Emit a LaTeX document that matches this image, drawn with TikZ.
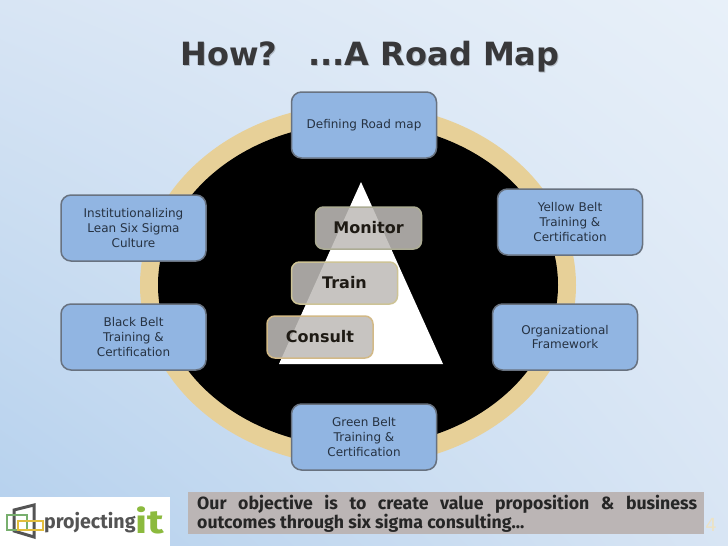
\documentclass[tikz,border=0pt]{standalone}
\usepackage{fontspec}
\setmainfont{DejaVu Sans}
\newfontfamily\firafont{Fira Sans}
\usetikzlibrary{shadings,shapes.geometric}
\definecolor{ringtan}{RGB}{231,208,152}
\definecolor{boxblue}{RGB}{145,181,226}
\definecolor{boxedge}{RGB}{104,114,128}
\definecolor{boxtext}{RGB}{38,50,66}
\definecolor{stepfill}{RGB}{191,188,184}
\definecolor{steptext}{RGB}{30,26,20}
\definecolor{titlegrey}{RGB}{56,56,58}
\definecolor{bannergrey}{RGB}{187,181,181}
\definecolor{itgreen}{RGB}{140,186,62}
\definecolor{logogrey}{RGB}{84,84,84}
\definecolor{logogreen}{RGB}{120,175,110}
\definecolor{logoyellow}{RGB}{226,190,60}
\definecolor{bgll}{RGB}{180,208,237}
\definecolor{bgul}{RGB}{216,229,244}
\definecolor{bgur}{RGB}{232,240,249}
\definecolor{bglr}{RGB}{216,229,244}
\definecolor{edgemon}{RGB}{172,172,148}
\definecolor{edgetrain}{RGB}{205,195,150}
\definecolor{edgecons}{RGB}{210,185,135}
\definecolor{pagetan}{RGB}{236,226,196}
\tikzset{
  x=1pt,y=-1pt,
  bluebox/.style={draw=boxedge,line width=1.5pt,fill=boxblue,rounded corners=10pt,
    minimum width=145pt,minimum height=66pt,inner sep=0pt,outer sep=0pt,align=center,
    text=boxtext,font=\fontsize{12}{14.6}\selectfont},
  stepbox/.style={line width=1.5pt,fill=stepfill,fill opacity=.87,text opacity=1,rounded corners=8pt,
    minimum width=106pt,minimum height=42pt,inner sep=0pt,outer sep=0pt,
    text=steptext,font=\fontsize{16}{18}\selectfont\bfseries},
}
\begin{document}
\begin{tikzpicture}
\useasboundingbox (0,0) rectangle (728,546);
% background
\shade[shading=bilinear interpolation,lower left=bgll,upper left=bgul,upper right=bgur,lower right=bglr] (0,0) rectangle (728,546);
% title
\node[text=titlegrey,opacity=.25,font=\fontsize{32}{36}\selectfont\bfseries,inner sep=0pt] (titleshadow) at (370.6,57.2) {How?\hspace{31pt}...A Road Map};
\node[text=titlegrey,font=\fontsize{32}{36}\selectfont\bfseries,inner sep=0pt] (title) at (370,56.5) {How?\hspace{31pt}...A Road Map};
% ring and disc
\fill[ringtan] (358,285) ellipse [x radius=218,y radius=181];
\fill[black] (358,285) ellipse [x radius=200,y radius=162];
% pyramid
\fill[white] (361,182) -- (443,364) -- (279,364) -- cycle;
\node[stepbox,draw=edgemon] (monitor) at (368.5,228) {Monitor};
\node[stepbox,draw=edgetrain] (train) at (344.5,283) {Train};
\node[stepbox,draw=edgecons] (consult) at (320,337) {Consult};
% outer boxes
\node[bluebox] (roadmap) at (364,125) {Defining Road map};
\node[bluebox] (culture) at (133.5,228) {Institutionalizing\\Lean Six Sigma\\Culture};
\node[bluebox] (black) at (133.5,337) {Black Belt\\Training \&\\Certification};
\node[bluebox] (yellow) at (570,222) {Yellow Belt\\Training \&\\Certification};
\node[bluebox] (org) at (565,337) {Organizational\\Framework};
\node[bluebox] (green) at (364,437) {Green Belt\\Training \&\\Certification};
% banner
\node[fill=bannergrey,minimum width=516pt,minimum height=42pt,inner sep=0pt,outer sep=0pt,anchor=north west] (banner) at (188,492) {};
\node[anchor=west,inner sep=0pt,align=left,text=black!85,font=\firafont\bfseries\fontsize{17.7}{18.5}\selectfont] (bannertext) at (197,514)
  {\hbox to 500pt{Our\hfill objective\hfill is\hfill to\hfill create\hfill value\hfill proposition\hfill \&\hfill business}\\outcomes through six sigma consulting...};
\node[text=pagetan,font=\fontsize{18}{20}\selectfont,inner sep=0pt] (pagenum) at (711,525) {4};
% logo
\fill[white] (0,497) rectangle (170,546);
\draw[logogrey,line width=3pt,line join=miter] (14,510) -- (34,505) -- (34,537) -- (14,531) -- cycle;
\draw[logogreen,line width=1.4pt] (7,515) rectangle (27,530);
\draw[logoyellow,line width=1.4pt] (18,521) rectangle (43,530);
\node[anchor=west,inner sep=0pt,text=logogrey,xscale=.98,font=\firafont\bfseries\fontsize{20}{22}\selectfont] (logotext) at (44,523) {projecting};
\node[anchor=west,inner sep=0pt,text=itgreen,xscale=1.3,font=\firafont\bfseries\fontsize{33}{34}\selectfont] (logoit) at (135,520) {it};
\end{tikzpicture}
\end{document}
